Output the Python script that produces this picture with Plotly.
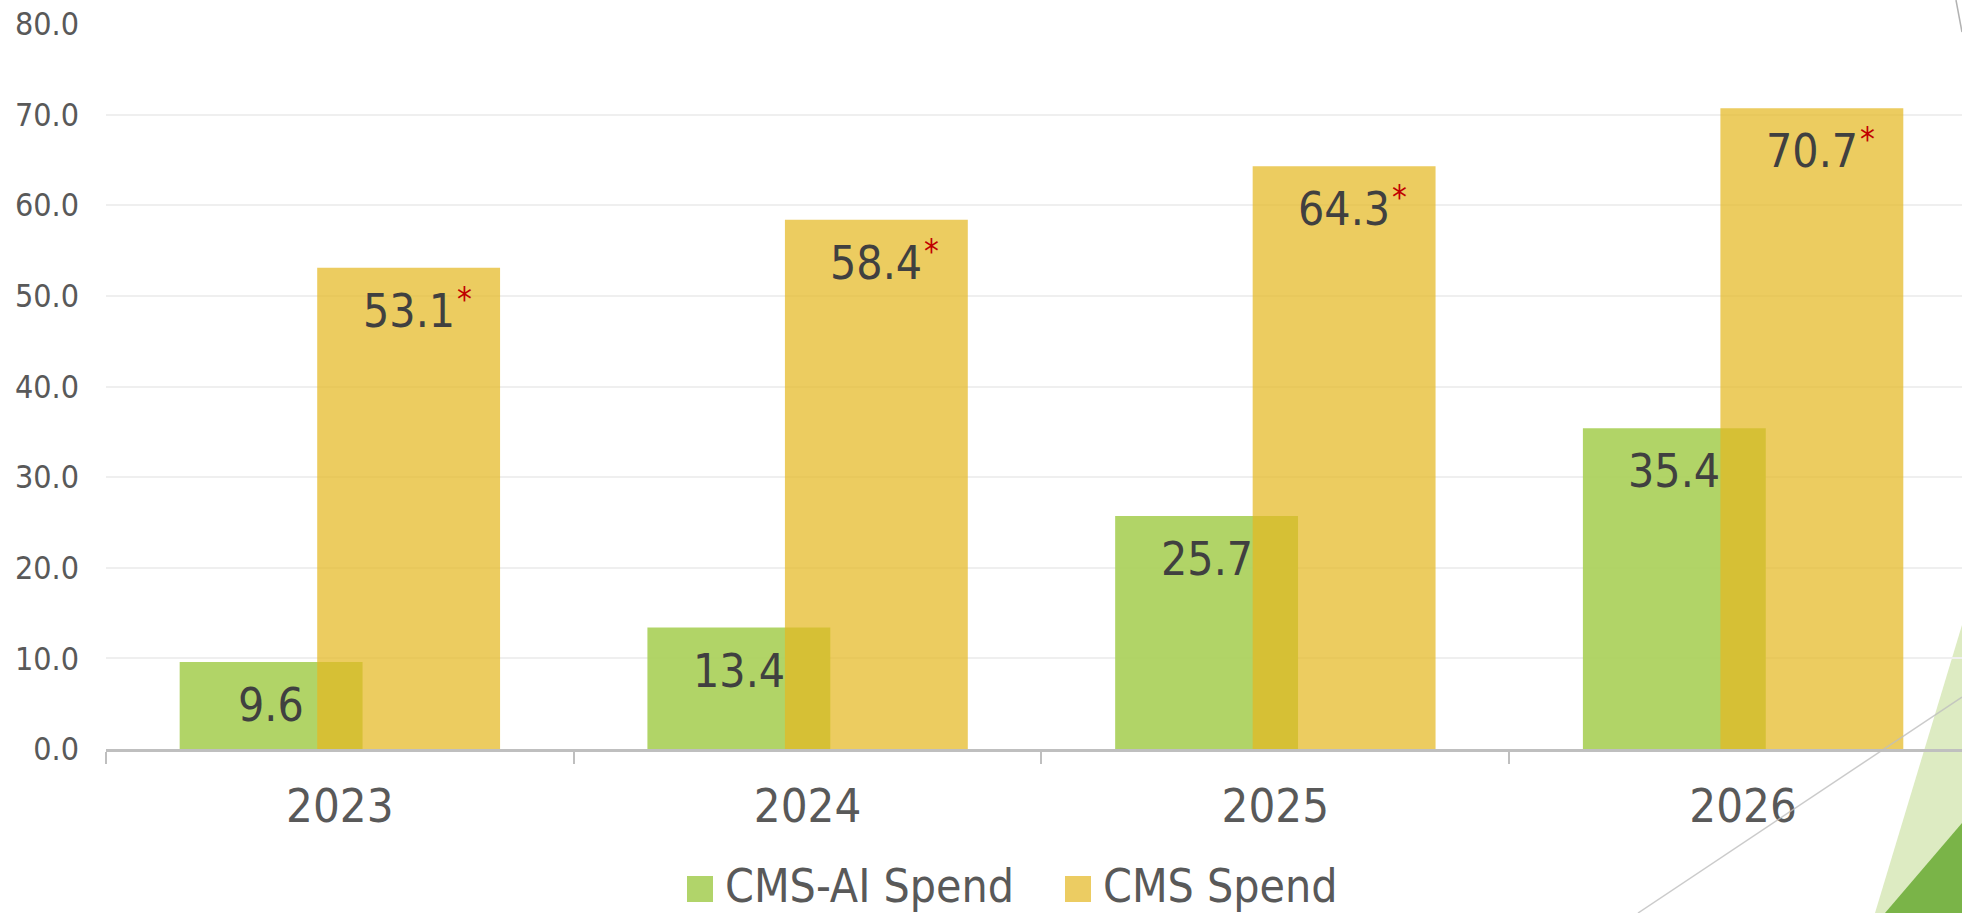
import plotly.graph_objects as go

# ---------------- data ----------------
years = ["2023", "2024", "2025", "2026"]
cms_ai_spend = [9.6, 13.4, 25.7, 35.4]
cms_spend = [53.1, 58.4, 64.3, 70.7]
series_names = ["CMS-AI Spend", "CMS Spend"]
y_tick_values = [0, 10, 20, 30, 40, 50, 60, 70, 80]
y_tick_labels = ["0.0", "10.0", "20.0", "30.0", "40.0", "50.0", "60.0", "70.0", "80.0"]

# ---------------- style ----------------
W, H = 1962, 913
M_L, M_R, M_T, M_B = 106, 0, 24, 164
FONT = "DejaVu Sans Condensed, Liberation Sans Narrow, sans-serif"
GREEN = "rgba(168,207,87,0.9)"
YELLOW = "rgba(229,184,35,0.72)"
GREEN_SOLID = "#B1D46A"
YELLOW_SOLID = "#ECCC62"
AXIS_GREY = "#BFBFBF"
TICK_TEXT = "#595959"
LABEL_TEXT = "#404040"
STAR_RED = "#C00000"
BAR_W = 0.391
OFF_AI = -0.147 - BAR_W / 2
OFF_CMS = 0.147 - BAR_W / 2
LABEL_SIZE = 46
STAR_SIZE = 33

PW = W - M_L - M_R
PH = H - M_T - M_B


def px_x(px):
    return (px - M_L) / PW


def px_y(py):
    return (H - M_B - py) / PH


fig = go.Figure()
fig.add_trace(go.Bar(
    x=years, y=cms_ai_spend, name=series_names[0],
    marker=dict(color=GREEN, line=dict(width=0)),
    width=BAR_W, offset=OFF_AI, showlegend=False,
))
fig.add_trace(go.Bar(
    x=years, y=cms_spend, name=series_names[1],
    marker=dict(color=YELLOW, line=dict(width=0)),
    width=BAR_W, offset=OFF_CMS, showlegend=False,
))

annotations = []
for i, v in enumerate(cms_ai_spend):
    annotations.append(dict(
        x=i + OFF_AI + BAR_W / 2, y=v, xref="x", yref="y",
        text=f"{v:.1f}", showarrow=False, yanchor="middle", yshift=-43,
        font=dict(family=FONT, size=LABEL_SIZE, color=LABEL_TEXT),
    ))
for i, v in enumerate(cms_spend):
    annotations.append(dict(
        x=i + OFF_CMS + BAR_W / 2, y=v, xref="x", yref="y",
        text=f"{v:.1f}", showarrow=False, yanchor="middle", yshift=-43,
        font=dict(family=FONT, size=LABEL_SIZE, color=LABEL_TEXT),
    ))
    annotations.append(dict(
        x=i + OFF_CMS + BAR_W / 2, y=v, xref="x", yref="y",
        text="*", showarrow=False, xanchor="left", yanchor="top",
        xshift=46, yshift=-10,
        font=dict(family=FONT, size=STAR_SIZE, color=STAR_RED),
    ))

# custom legend (large square swatches like the original)
legend_items = [(series_names[0], GREEN_SOLID, 687), (series_names[1], YELLOW_SOLID, 1065)]
shapes = []
for name, col, x0 in legend_items:
    shapes.append(dict(type="rect", xref="paper", yref="paper",
                       x0=px_x(x0), x1=px_x(x0 + 26), y0=px_y(902), y1=px_y(876),
                       fillcolor=col, line=dict(width=0)))
    annotations.append(dict(
        x=px_x(x0 + 36), y=px_y(886), xref="paper", yref="paper",
        text=name, showarrow=False, xanchor="left", yanchor="middle",
        font=dict(family=FONT, size=46, color=TICK_TEXT),
    ))

# slide decorations at the right edge
shapes += [
    dict(type="path", xref="paper", yref="paper", layer="below",
         path=f"M {px_x(1962)},{px_y(625)} L {px_x(1875)},{px_y(913)} L {px_x(1962)},{px_y(913)} Z",
         fillcolor="#DDEBC2", line=dict(width=0)),
    dict(type="path", xref="paper", yref="paper", layer="below",
         path=f"M {px_x(1962)},{px_y(823)} L {px_x(1885)},{px_y(913)} L {px_x(1962)},{px_y(913)} Z",
         fillcolor="#7AB448", line=dict(width=0)),
    dict(type="line", xref="paper", yref="paper", layer="above",
         x0=px_x(1638), y0=px_y(913), x1=px_x(1962), y1=px_y(697),
         line=dict(color="rgba(190,190,190,0.8)", width=1.5)),
    dict(type="line", xref="paper", yref="paper", layer="above",
         x0=px_x(1956), y0=px_y(0), x1=px_x(1962), y1=px_y(32),
         line=dict(color="rgba(170,170,170,0.9)", width=1.5)),
]

fig.update_layout(
    width=W, height=H,
    margin=dict(l=M_L, r=M_R, t=M_T, b=M_B, pad=0),
    paper_bgcolor="white", plot_bgcolor="white",
    barmode="overlay",
    showlegend=False,
    font=dict(family=FONT, color=TICK_TEXT),
    annotations=annotations,
    shapes=shapes,
    xaxis=dict(
        type="category", range=[-0.5, 3.468], automargin=False,
        showgrid=False, zeroline=False,
        showline=True, linecolor=AXIS_GREY, linewidth=3,
        ticks="outside", tickson="boundaries", ticklen=12, tickwidth=2, tickcolor=AXIS_GREY,
        tickfont=dict(family=FONT, size=47, color=TICK_TEXT),
        ticklabelstandoff=14,
        fixedrange=True,
    ),
    yaxis=dict(
        range=[0, 80], tickvals=y_tick_values, ticktext=y_tick_labels, automargin=False,
        showgrid=True, gridcolor="#EFEFEF", gridwidth=2,
        zeroline=False, showline=False, ticks="",
        tickfont=dict(family=FONT, size=32, color=TICK_TEXT),
        ticklabelstandoff=26,
        fixedrange=True,
    ),
)

fig.write_html(
    "out.html",
    config={"displayModeBar": False},
    post_script="document.body.style.margin='0';document.body.style.overflow='hidden';",
)
